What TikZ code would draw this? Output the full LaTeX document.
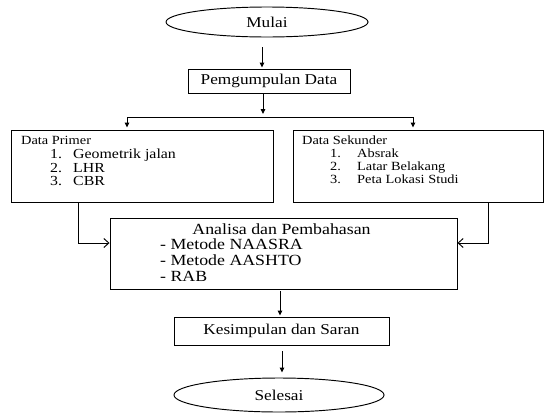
\documentclass[tikz,border=0pt]{standalone}
\usepackage{fontspec}
\setmainfont[FakeStretch=1.15]{Liberation Serif}
\usetikzlibrary{shapes.geometric,arrows.meta,calc}
\begin{document}
\begin{tikzpicture}[x=1pt,y=-1pt,
  lw/.style={line width=0.95pt},
  boxst/.style={draw,lw,rectangle,inner sep=0pt},
  ovalst/.style={draw,lw,ellipse,inner sep=0pt},
  bigtxt/.style={font=\fontsize{15}{18}\selectfont},
  smalltxt/.style={font=\fontsize{12.5}{15}\selectfont,inner sep=0pt,anchor=base west},
  midtxt/.style={font=\fontsize{13.8}{16}\selectfont,inner sep=0pt,anchor=base west},
  anatxt/.style={font=\fontsize{15.5}{18}\selectfont,inner sep=0pt,anchor=base west},
  downarr/.style={lw,-{Triangle[length=5pt,width=4.5pt]}},
  barbarr/.style={lw,-{Straight Barb[length=5pt,width=9pt]}},
  plain/.style={lw}]
\useasboundingbox (0,0) rectangle (546,413);

% nodes
\node[ovalst,bigtxt,minimum width=202pt,minimum height=30pt] (mulai) at (267,22) {Mulai};
\node[boxst,bigtxt,minimum width=162pt,minimum height=24pt] (pd) at (269,81) {Pemgumpulan Data};
\node[boxst,minimum width=262pt,minimum height=72pt] (primer) at (142,166) {};
\node[boxst,minimum width=250pt,minimum height=72pt] (sekunder) at (418,166) {};
\node[boxst,minimum width=347pt,minimum height=71pt] (analisa) at (283.5,253.5) {};
\node[boxst,bigtxt,minimum width=215pt,minimum height=28pt] (kes) at (281.5,331) {Kesimpulan dan Saran};
\node[ovalst,bigtxt,minimum width=210pt,minimum height=34pt] (selesai) at (279,395) {Selesai};

% texts in Data Primer
\node[smalltxt] (ph) at (21,144) {Data Primer};
\node[midtxt] (pn1) at (50,158.5) {1.};
\node[midtxt] (pt1) at (73,158.5) {Geometrik jalan};
\node[midtxt] (pn2) at (50,172.5) {2.};
\node[midtxt] (pt2) at (73,172.5) {LHR};
\node[midtxt] (pn3) at (50,185.5) {3.};
\node[midtxt] (pt3) at (73,185.5) {CBR};

% texts in Data Sekunder
\node[smalltxt] (sh) at (302,144) {Data Sekunder};
\node[smalltxt] (sn1) at (330,157) {1.};
\node[smalltxt] (st1) at (357,157) {Absrak};
\node[smalltxt] (sn2) at (330,170) {2.};
\node[smalltxt] (st2) at (357,170) {Latar Belakang};
\node[smalltxt] (sn3) at (330,183) {3.};
\node[smalltxt] (st3) at (357,183) {Peta Lokasi Studi};

% texts in Analisa
\node[font=\fontsize{15.5}{18}\selectfont,inner sep=0pt] (at) at (281.5,229) {Analisa dan Pembahasan};
\node[anatxt] (a1) at (160,249) {- Metode NAASRA};
\node[anatxt] (a2) at (160,265) {- Metode AASHTO};
\node[anatxt] (a3) at (160,281) {- RAB};

% connectors
\coordinate (j) at (263,117);
\coordinate (jl) at (127,117);
\coordinate (jr) at (413,117);
\coordinate (cl) at (78,243);
\coordinate (cr) at (488,243);

\draw[downarr,shorten <=10pt,shorten >=1pt] ([xshift=-5pt]mulai.south) -- ([xshift=-5pt]mulai.south |- pd.north);
\draw[downarr,shorten >=3pt] ([xshift=-6pt]pd.south) -- (j);
\draw[plain] (jl) -- (jr);
\draw[downarr,shorten >=2pt] (jl) -- (jl |- primer.north);
\draw[downarr,shorten >=2pt] (jr) -- (jr |- sekunder.north);
\draw[barbarr] (cl |- primer.south) -- (cl) -- (cl -| analisa.west);
\draw[barbarr] (cr |- sekunder.south) -- (cr) -- (cr -| analisa.east);
\draw[downarr,shorten <=2pt,shorten >=1pt] ([xshift=-3.5pt]analisa.south) -- ([xshift=-3.5pt]analisa.south |- kes.north);
\draw[downarr,shorten <=6pt,shorten >=5pt] ([xshift=0.5pt]kes.south) -- ([xshift=0.5pt]kes.south |- selesai.north);
\end{tikzpicture}
\end{document}
